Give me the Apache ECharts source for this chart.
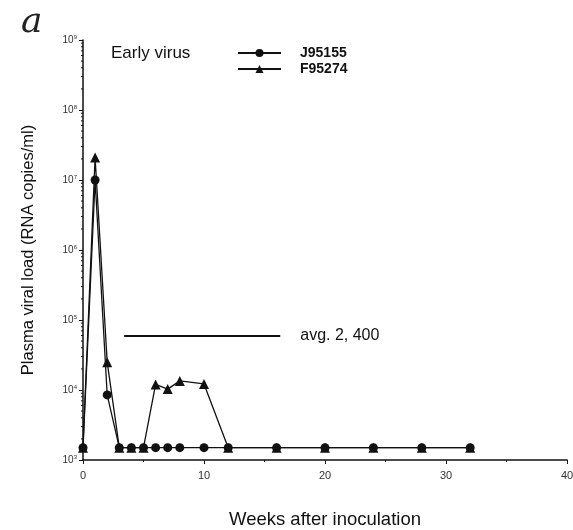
<!DOCTYPE html>
<html>
<head>
<meta charset="utf-8">
<script src="https://cdn.jsdelivr.net/npm/echarts@6/dist/echarts.min.js"></script>
<style>
  html, body { margin: 0; padding: 0; background: #fff; }
  #chart { width: 573px; height: 530px; }
</style>
</head>
<body>
<div id="chart"></div>
<script>
const FONT = "'Liberation Sans', Arial, sans-serif"

// weeks after inoculation
const weeksJ = [0, 1, 2, 3, 4, 5, 6, 7, 8, 10, 12, 16, 20, 24, 28, 32]
const loadJ = [1500, 1.0e7, 8500, 1500, 1500, 1500, 1500, 1500, 1500, 1500, 1500, 1500, 1500, 1500, 1500, 1500]

const weeksF = [0, 1, 2, 3, 4, 5, 6, 7, 8, 10, 12, 16, 20, 24, 28, 32]
const loadF = [1500, 2.1e7, 25000, 1500, 1500, 1500, 12000, 10300, 13500, 12200, 1500, 1500, 1500, 1500, 1500, 1500]

const avgSpan = [3.4, 16.3]
const avgLevel = 59000
const avgText = 'avg. 2, 400'

// log-style minor ticks on the y axis (2..9 x 10^k)
const decades = [1e3, 1e4, 1e5, 1e6, 1e7, 1e8]
const minorMult = [2, 3, 4, 5, 6, 7, 8, 9]

const chart = echarts.init(document.getElementById('chart'))

const pair = (xs, ys) => xs.map((x, i) => [x, ys[i]])
const minorVals = []
decades.forEach(d => minorMult.forEach(m => minorVals.push([0, d * m])))

chart.setOption({
  animation: false,
  title: [
    {
      text: 'a', left: 16, top: 0,
      textStyle: { fontFamily: "'DejaVu Serif', serif", fontStyle: 'italic', fontWeight: 'normal', fontSize: 36, color: '#222' }
    },
    {
      text: 'Early virus', left: 106, top: 40,
      textStyle: { fontFamily: FONT, fontWeight: 'normal', fontSize: 17, color: '#111' }
    }
  ],
  legend: {
    left: 232, top: 41, orient: 'vertical',
    itemWidth: 43, itemHeight: 10, itemGap: 2,
    textStyle: { fontFamily: FONT, fontSize: 14, color: '#111', fontWeight: 'bold', padding: [0, 0, 0, 14] },
    data: ['J95155', 'F95274']
  },
  grid: { left: 83, right: 6, top: 40, bottom: 70, outerBoundsMode: 'none' },
  xAxis: {
    type: 'value', min: 0, max: 40, interval: 10,
    name: 'Weeks after inoculation', nameLocation: 'middle', nameGap: 50,
    nameTextStyle: { fontFamily: FONT, fontSize: 18.5, color: '#111' },
    axisLine: { lineStyle: { color: '#111', width: 1.5 } },
    axisTick: { length: 4, lineStyle: { color: '#111' } },
    minorTick: { show: true, splitNumber: 2, length: 2, lineStyle: { color: '#111' } },
    splitLine: { show: false },
    axisLabel: { fontFamily: FONT, fontSize: 11, color: '#333', margin: 10 }
  },
  yAxis: {
    type: 'log', logBase: 10, min: 1000, max: 1e9,
    name: 'Plasma viral load (RNA copies/ml)', nameLocation: 'middle', nameGap: 46,
    nameTextStyle: { fontFamily: FONT, fontSize: 16.5, color: '#111' },
    axisLine: { show: true, lineStyle: { color: '#111', width: 1.5 } },
    axisTick: { length: 4, lineStyle: { color: '#111' } },
    minorTick: { show: false },
    splitLine: { show: false },
    axisLabel: {
      margin: 6,
      formatter: v => '{b|10}{s|' + Math.round(Math.log10(v)) + '}',
      rich: {
        b: { fontFamily: FONT, fontSize: 10, color: '#333' },
        s: { fontFamily: FONT, fontSize: 6, color: '#333', verticalAlign: 'bottom', padding: [0, 0, 6, 0] }
      }
    }
  },
  series: [
    {
      name: 'minor', type: 'custom', silent: true, data: minorVals,
      renderItem: (params, api) => {
        const p = api.coord([api.value(0), api.value(1)])
        return { type: 'line', shape: { x1: p[0] - 2, y1: p[1], x2: p[0], y2: p[1] },
          style: { stroke: '#111', lineWidth: 1 } }
      }
    },
    {
      name: 'F95274', type: 'line', data: pair(weeksF, loadF),
      symbol: 'triangle', symbolSize: 10,
      lineStyle: { color: '#111', width: 1.3 }, itemStyle: { color: '#111' },
      markLine: {
        silent: true, symbol: 'none',
        lineStyle: { color: '#111', width: 2, type: 'solid' },
        label: { show: true, position: 'end', distance: 20, formatter: avgText,
          fontFamily: FONT, fontSize: 16, color: '#111' },
        data: [[{ coord: [avgSpan[0], avgLevel] }, { coord: [avgSpan[1], avgLevel] }]]
      }
    },
    {
      name: 'J95155', type: 'line', data: pair(weeksJ, loadJ),
      symbol: 'circle', symbolSize: 9,
      lineStyle: { color: '#111', width: 1.3 }, itemStyle: { color: '#111' }
    }
  ]
})
</script>
</body>
</html>
